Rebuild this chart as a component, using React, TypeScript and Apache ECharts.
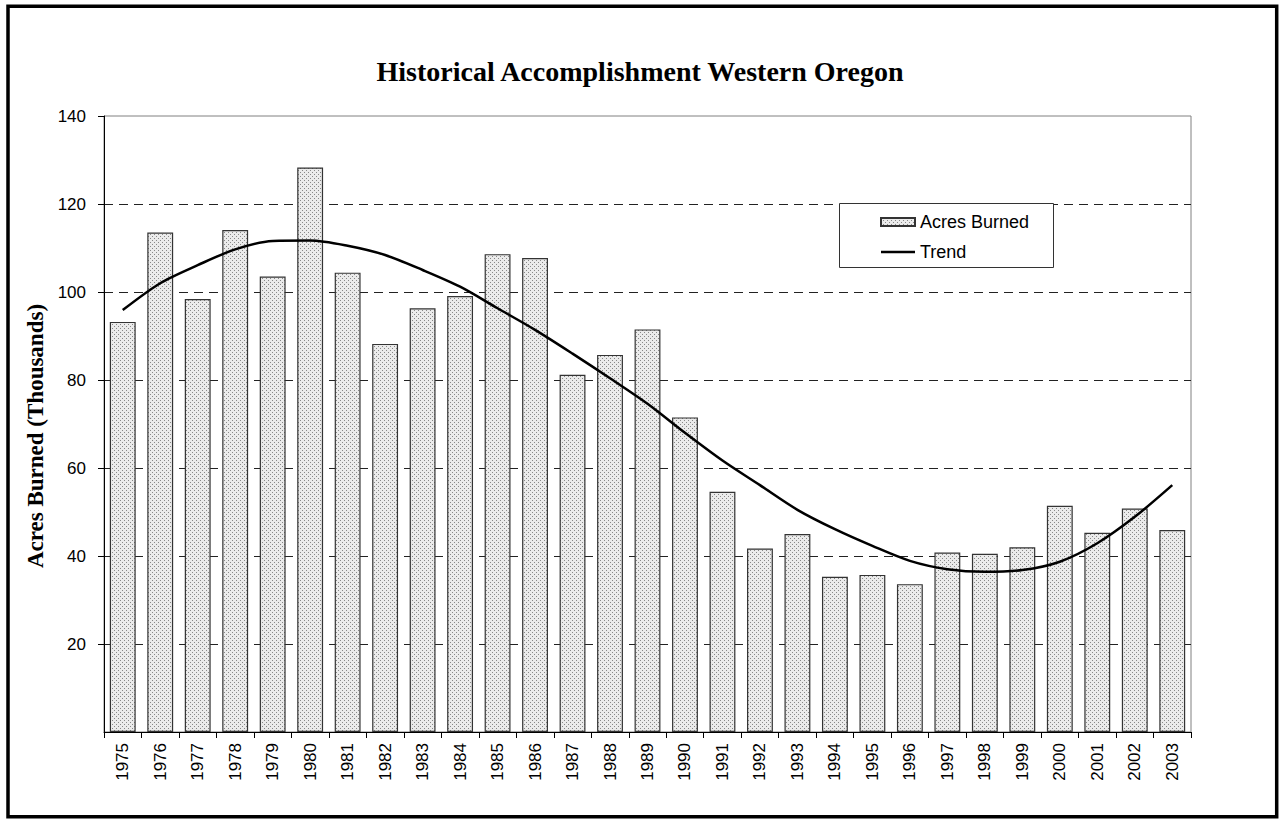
import React, { useEffect, useRef } from "react";
import * as echarts from "echarts";

const years: string[] = [
  "1975", "1976", "1977", "1978", "1979", "1980", "1981", "1982", "1983", "1984",
  "1985", "1986", "1987", "1988", "1989", "1990", "1991", "1992", "1993", "1994",
  "1995", "1996", "1997", "1998", "1999", "2000", "2001", "2002", "2003",
];

const acresBurned: number[] = [
  93.2, 113.5, 98.4, 114.1, 103.5, 128.3, 104.4, 88.2, 96.3, 99.1,
  108.6, 107.7, 81.2, 85.7, 91.5, 71.5, 54.6, 41.7, 45.0, 35.3,
  35.7, 33.6, 40.8, 40.5, 42.0, 51.4, 45.3, 50.8, 45.9,
];

const trend: number[] = [
  95.9, 102.0, 106.1, 109.7, 111.6, 111.7, 110.5, 108.4, 105.0, 101.2,
  96.3, 91.4, 86.0, 80.4, 74.6, 68.0, 61.7, 56.1, 50.5, 46.1,
  42.3, 38.9, 37.0, 36.4, 36.8, 38.7, 42.9, 48.9, 56.1,
];

const yTicks = { min: 0, max: 140, interval: 20 };

function makePattern(): HTMLCanvasElement {
  const c = document.createElement("canvas");
  c.width = 4;
  c.height = 4;
  const ctx = c.getContext("2d")!;
  ctx.fillStyle = "#ebebeb";
  ctx.fillRect(0, 0, 4, 4);
  ctx.fillStyle = "#888888";
  ctx.fillRect(0, 0, 1, 1);
  ctx.fillRect(2, 2, 1, 1);
  return c;
}

export default function App() {
  const ref = useRef<HTMLDivElement>(null);

  useEffect(() => {
    if (!ref.current) return;
    const chart = echarts.init(ref.current, null, { renderer: "svg" });
    const pattern = { image: makePattern(), repeat: "repeat" } as any;
    const sans = "'Liberation Sans', Arial, sans-serif";
    const serif = "'Liberation Serif', 'Times New Roman', serif";

    chart.setOption({
      animation: false,
      backgroundColor: "#ffffff",
      title: {
        text: "Historical Accomplishment Western Oregon",
        left: "center",
        top: 52,
        textStyle: { fontFamily: serif, fontWeight: "bold", fontSize: 28, color: "#000" },
      },
      legend: {
        orient: "vertical",
        left: 875,
        top: 208,
        itemWidth: 34,
        itemHeight: 8,
        itemGap: 12,
        z: 10,
        textStyle: { fontFamily: sans, fontSize: 18, color: "#000" },
        data: [
          { name: "Acres Burned", icon: "rect" },
          { name: "Trend", icon: "path://M0,0 H34 V2.4 H0 Z" },
        ],
      },
      graphic: [
        {
          type: "rect",
          z: 5,
          shape: { x: 839.5, y: 203.5, width: 214, height: 64 },
          style: { fill: "#fff", stroke: "#333", lineWidth: 1 },
        },
        {
          type: "text",
          z: 10,
          x: 35,
          y: 436,
          rotation: Math.PI / 2,
          style: {
            text: "Acres Burned (Thousands)",
            fontFamily: serif,
            fontWeight: "bold",
            fontSize: 23,
            fill: "#000",
            align: "center",
            verticalAlign: "middle",
          },
        },
        {
          type: "rect",
          z: 20,
          silent: true,
          shape: { x: 8, y: 6.3, width: 1268.7, height: 810.4 },
          style: { fill: "none", stroke: "#000", lineWidth: 3.5 },
        },
      ],
      grid: {
        left: 104,
        right: 89,
        top: 116,
        bottom: 87,
        show: true,
        borderColor: "#808080",
        borderWidth: 1,
        backgroundColor: "transparent",
      },
      xAxis: {
        type: "category",
        data: years,
        axisLine: { lineStyle: { color: "#000", width: 1 } },
        axisTick: { show: true, length: 6, lineStyle: { color: "#000" } },
        axisLabel: {
          interval: 0,
          rotate: 90,
          margin: 11,
          fontFamily: sans,
          fontSize: 17,
          color: "#000",
        },
      },
      yAxis: {
        type: "value",
        min: yTicks.min,
        max: yTicks.max,
        interval: yTicks.interval,
        axisLine: { show: true, lineStyle: { color: "#000", width: 1 } },
        axisTick: { show: true, length: 6, lineStyle: { color: "#000" } },
        axisLabel: {
          showMinLabel: false,
          margin: 18,
          fontFamily: sans,
          fontSize: 17,
          color: "#000",
        },
        splitLine: {
          show: true,
          showMinLine: false,
          showMaxLine: false,
          lineStyle: { color: "#222", width: 1, type: [9, 6] },
        },
      },
      series: [
        {
          name: "Acres Burned",
          type: "bar",
          data: acresBurned,
          barCategoryGap: "31%",
          itemStyle: { color: pattern, borderColor: "#333", borderWidth: 1.2 },
          z: 2,
        },
        {
          name: "Trend",
          type: "line",
          data: trend,
          smooth: 0.3,
          symbol: "none",
          showSymbol: false,
          lineStyle: { color: "#000", width: 2.5 },
          itemStyle: { color: "#000" },
          z: 3,
        },
      ],
    });

    return () => chart.dispose();
  }, []);

  return (
    <div
      ref={ref}
      style={{ position: "fixed", left: 0, top: 0, width: 1280, height: 819 }}
    />
  );
}
